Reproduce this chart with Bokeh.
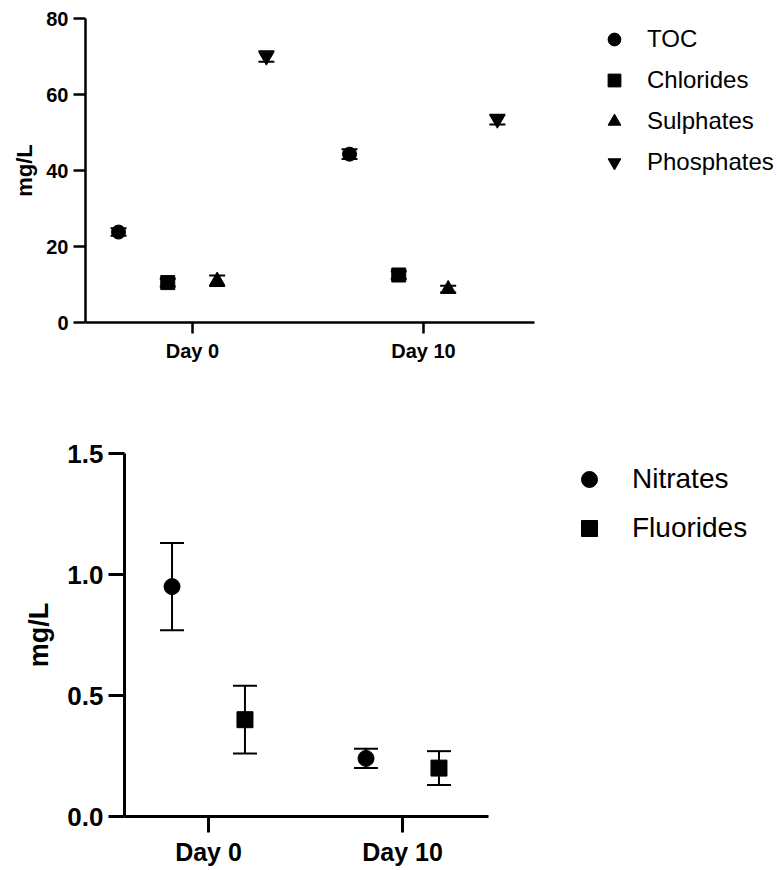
from bokeh.plotting import figure
from bokeh.models import (ColumnDataSource, Range1d, FixedTicker, Whisker, TeeHead,
                          Legend, LegendItem, NumeralTickFormatter)
from bokeh.transform import dodge
from bokeh.embed import file_html
from bokeh.resources import INLINE

# ---------------- data ----------------
days = ["Day 0", "Day 10"]
day_pos = [0, 1]

toc = [23.8, 44.3]
toc_err = [1.0, 1.3]
chlorides = [10.5, 12.5]
chlorides_err = [1.0, 1.0]
sulphates = [11.0, 8.8]
sulphates_err = [1.4, 0.9]
phosphates = [70.0, 53.4]
phosphates_err = [1.4, 1.3]

nitrates = [0.95, 0.24]
nitrates_err = [0.18, 0.04]
fluorides = [0.40, 0.20]
fluorides_err = [0.14, 0.07]

top_yticks = [0, 20, 40, 60, 80]
bot_yticks = [0.0, 0.5, 1.0, 1.5]

FONT = "Liberation Sans"
W = 777


def style_axes(p, tick_size, label_size, tick_len, line_w, xbounds):
    for ax in (p.xaxis[0], p.yaxis[0]):
        ax.axis_line_width = line_w
        ax.axis_line_color = "black"
        ax.major_tick_line_width = line_w
        ax.major_tick_line_color = "black"
        ax.major_tick_out = tick_len
        ax.major_tick_in = 0
        ax.minor_tick_line_color = None
        ax.major_label_text_font = FONT
        ax.major_label_text_font_style = "bold"
        ax.major_label_text_font_size = f"{tick_size}px"
        ax.major_label_text_color = "black"
        ax.axis_label_text_font = FONT
        ax.axis_label_text_font_style = "bold"
        ax.axis_label_text_font_size = f"{label_size}px"
        ax.axis_label_text_color = "black"
    p.xgrid.visible = False
    p.ygrid.visible = False
    p.outline_line_color = None
    p.xaxis.major_label_overrides = {i: d for i, d in zip(day_pos, days)}
    p.xaxis.ticker = FixedTicker(ticks=day_pos)
    p.xaxis.bounds = xbounds


def add_series(p, src, yname, ename, offset, marker, size, cap_w, lw):
    xs = dodge("x", offset, range=p.x_range)
    r = p.scatter(x=xs, y=yname, source=src, marker=marker, size=size,
                  fill_color="black", line_color="black")
    src.data[yname + "_lo"] = [v - e for v, e in zip(src.data[yname], src.data[ename])]
    src.data[yname + "_hi"] = [v + e for v, e in zip(src.data[yname], src.data[ename])]
    w = Whisker(base=xs, upper=yname + "_hi", lower=yname + "_lo", source=src,
                line_color="black", line_width=lw,
                upper_head=TeeHead(size=cap_w, line_width=lw, line_color="black"),
                lower_head=TeeHead(size=cap_w, line_width=lw, line_color="black"))
    p.add_layout(w)
    return r


# ---------------- top chart ----------------
src1 = ColumnDataSource(dict(x=day_pos, toc=toc, toc_e=toc_err, chl=chlorides, chl_e=chlorides_err,
                             sul=sulphates, sul_e=sulphates_err, pho=phosphates, pho_e=phosphates_err))

L1 = 85
fw1 = W - L1
p1 = figure(width=W, height=400, x_range=Range1d(-0.463, -0.463 + fw1 / 231.0), y_range=Range1d(0, 80),
            output_backend="svg", toolbar_location=None,
            min_border_left=L1, min_border_right=0, min_border_top=18,
            min_border_bottom=400 - 18 - 304)
p1.yaxis.ticker = FixedTicker(ticks=top_yticks)
p1.yaxis.axis_label = "mg/L"
style_axes(p1, 20, 22, 12, 2.5, (-0.463, 1.48))
p1.xaxis.major_tick_out = 11
p1.xaxis.major_label_standoff = 6
p1.yaxis.major_label_standoff = 5
p1.yaxis.axis_label_standoff = 6

r_toc = add_series(p1, src1, "toc", "toc_e", -0.32, "circle", 14, 16, 2)
r_chl = add_series(p1, src1, "chl", "chl_e", -0.107, "square", 14, 16, 2)
r_sul = add_series(p1, src1, "sul", "sul_e", 0.107, "triangle", 15, 16, 2)
r_pho = add_series(p1, src1, "pho", "pho_e", 0.32, "inverted_triangle", 15, 16, 2)

leg1 = Legend(items=[LegendItem(label="TOC", renderers=[r_toc]),
                     LegendItem(label="Chlorides", renderers=[r_chl]),
                     LegendItem(label="Sulphates", renderers=[r_sul]),
                     LegendItem(label="Phosphates", renderers=[r_pho])],
              location=(513, 144), glyph_width=32, glyph_height=32, label_height=32,
              spacing=9, padding=0, margin=0, label_standoff=17,
              label_text_font=FONT, label_text_font_size="24px", label_text_color="black",
              border_line_color=None, background_fill_alpha=0)
p1.add_layout(leg1, "center")

# ---------------- bottom chart ----------------
src2 = ColumnDataSource(dict(x=day_pos, nit=nitrates, nit_e=nitrates_err,
                             flu=fluorides, flu_e=fluorides_err))

L2 = 124
H2 = 468
fw2 = W - L2
p2 = figure(width=W, height=H2, x_range=Range1d(-0.433, -0.433 + fw2 / 194.0), y_range=Range1d(0, 1.5),
            output_backend="svg", toolbar_location=None,
            min_border_left=L2, min_border_right=0, min_border_top=53,
            min_border_bottom=H2 - 53 - 365)
p2.yaxis.ticker = FixedTicker(ticks=bot_yticks)
p2.yaxis.formatter = NumeralTickFormatter(format="0.0")
p2.yaxis.axis_label = "mg/L"
style_axes(p2, 25, 27, 16, 3, (-0.433, 1.443))
p2.yaxis.major_label_text_font_size = "26px"
p2.xaxis.major_label_standoff = 5
p2.yaxis.major_label_standoff = 5
p2.yaxis.axis_label_standoff = 10

r_nit = add_series(p2, src2, "nit", "nit_e", -0.188, "circle", 16, 24, 2)
r_flu = add_series(p2, src2, "flu", "flu_e", 0.188, "square", 16, 24, 2)

leg2 = Legend(items=[LegendItem(label="Nitrates", renderers=[r_nit]),
                     LegendItem(label="Fluorides", renderers=[r_flu])],
              location=(445, 268), glyph_width=40, glyph_height=40, label_height=40,
              spacing=9, padding=0, margin=0, label_standoff=23,
              label_text_font=FONT, label_text_font_size="28px", label_text_color="black",
              border_line_color=None, background_fill_alpha=0)
p2.add_layout(leg2, "center")

open("out.html", "w").write(file_html([p1, p2], INLINE))
